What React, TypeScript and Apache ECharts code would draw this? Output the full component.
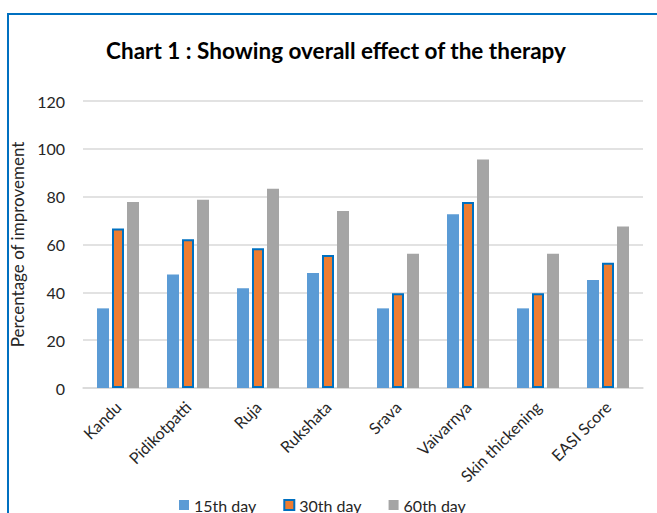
import React, { useEffect, useRef } from "react";
import * as echarts from "echarts";

const categories = ["Kandu", "Pidikotpatti", "Ruja", "Rukshata", "Srava", "Vaivarnya", "Skin thickening", "EASI Score"];
const day15 = [33.3, 47.5, 41.7, 48.1, 33.3, 72.6, 33.3, 45.2];
const day30 = [66.7, 62.2, 58.4, 55.6, 39.6, 77.8, 39.6, 52.4];
const day60 = [77.8, 78.7, 83.3, 74.0, 56.1, 95.5, 56.1, 67.5];
const seriesNames = ["15th day", "30th day", "60th day"];
const yTicks = { min: 0, max: 120, interval: 20 };

const FONT = "Lato, 'Noto Sans', sans-serif";

export default function App() {
  const ref = useRef<HTMLDivElement>(null);
  useEffect(() => {
    if (!ref.current) return;
    const chart = echarts.init(ref.current, undefined, { renderer: "svg" });
    chart.setOption({
      animation: false,
      backgroundColor: "#ffffff",
      textStyle: { fontFamily: FONT },
      graphic: [
        {
          type: "rect",
          shape: { x: 8, y: 14, width: 700, height: 560 },
          style: { fill: "none", stroke: "#0070c0", lineWidth: 2 },
          silent: true,
        },
        {
          type: "text",
          x: 336,
          y: 50,
          style: {
            text: "Chart 1 : Showing overall effect of the therapy",
            fontFamily: FONT,
            fontWeight: "bold",
            fontSize: 22.5,
            fill: "#000000",
            textAlign: "center",
            textVerticalAlign: "middle",
          },
        },
      ],
      legend: {
        data: seriesNames,
        left: 174,
        top: 492,
        itemWidth: 10,
        itemHeight: 10,
        itemGap: 27,
        icon: "rect",
        textStyle: { fontFamily: FONT, fontSize: 16, color: "#262626" },
      },
      grid: { left: 83, right: 14, top: 101, bottom: 125, containLabel: false },
      xAxis: {
        type: "category",
        data: categories,
        axisLine: { show: true, lineStyle: { color: "#d9d9d9", width: 1.5 } },
        axisTick: { show: false },
        axisLabel: { rotate: 45, fontFamily: FONT, fontSize: 16, color: "#262626", margin: 16, interval: 0 },
      },
      yAxis: {
        type: "value",
        min: yTicks.min,
        max: yTicks.max,
        interval: yTicks.interval,
        name: "Percentage of improvement",
        nameLocation: "middle",
        nameRotate: 90,
        nameGap: 42,
        nameTextStyle: { fontFamily: FONT, fontSize: 17, color: "#262626" },
        axisLine: { show: false },
        axisTick: { show: false },
        axisLabel: { fontFamily: FONT, fontSize: 16, color: "#262626", margin: 18 },
        splitLine: { lineStyle: { color: "#d9d9d9", width: 1.5 } },
      },
      series: [
        {
          name: seriesNames[0],
          type: "bar",
          data: day15,
          barWidth: 12,
          barGap: "25%",
          itemStyle: { color: "#5b9bd5" },
        },
        {
          name: seriesNames[1],
          type: "bar",
          data: day30,
          barWidth: 12,
          barGap: "25%",
          itemStyle: { color: "#ed7d31", borderColor: "#0070c0", borderWidth: 2 },
        },
        {
          name: seriesNames[2],
          type: "bar",
          data: day60,
          barWidth: 12,
          barGap: "25%",
          itemStyle: { color: "#a5a5a5" },
        },
      ],
    });
    return () => chart.dispose();
  }, []);
  return (
    <div
      ref={ref}
      style={{ position: "fixed", left: 0, top: 0, width: 657, height: 513 }}
    />
  );
}
